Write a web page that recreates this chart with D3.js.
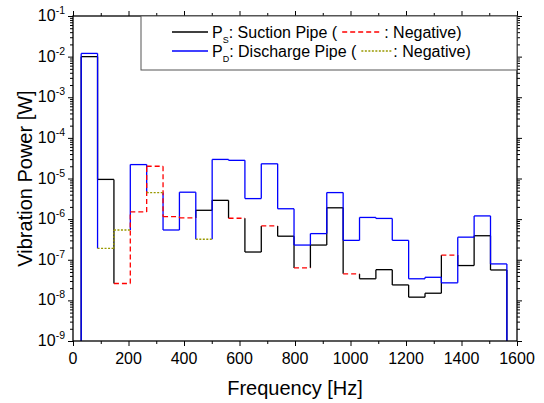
<!DOCTYPE html>
<html>
<head>
<meta charset="utf-8">
<script src="https://cdn.jsdelivr.net/npm/d3@7"></script>
<style>
  body { margin: 0; background: #fff; }
  svg { font-family: "Liberation Sans", Arial, sans-serif; }
</style>
</head>
<body>
<div id="chart"></div>
<script>
/* DATA */
// band centre frequencies [Hz] (bands are 59 Hz wide)
const freqs = [59, 118, 177, 236, 295, 354, 413, 472, 531, 590, 649, 708, 767,
  826, 885, 944, 1003, 1062, 1121, 1180, 1239, 1298, 1357, 1416, 1475, 1534];
const bandWidth = 59;
// suction pipe power [W], sign kept (negative = flowing the other way)
const suction = [1.0e-2, 9.5e-6, -2.6e-8, -1.5e-6, -2.0e-5, -1.15e-6, -1.07e-6, 1.65e-6,
  2.9e-6, -1.05e-6, 1.55e-7, -6.8e-7, 3.8e-7, -6.3e-8, 2.3e-7, 1.9e-6, -4.5e-8,
  3.4e-8, 5.7e-8, 2.4e-8, 1.2e-8, 1.5e-8, -1.3e-7, 7.2e-8, 3.9e-7, 5.6e-8];
// discharge pipe power [W]
const discharge = [1.2e-2, -1.9e-7, -5.4e-7, 2.2e-5, -4.5e-6, 5.4e-7, 4.6e-6, -3.2e-7,
  2.95e-5, 2.8e-5, 3.2e-6, 2.3e-5, 1.8e-6, 2.3e-7, 4.4e-7, 4.5e-6, 3.0e-7,
  1.1e-6, 1.04e-6, 3.0e-7, 3.4e-8, 3.7e-8, 2.7e-8, 3.6e-7, 1.2e-6, 7.9e-8];
const xTicks = [0, 200, 400, 600, 800, 1000, 1200, 1400, 1600];
const yExponents = [-1, -2, -3, -4, -5, -6, -7, -8, -9];

/* LAYOUT */
const W = 544, H = 403;
const plot = {left: 73, right: 517, top: 16, bottom: 341};

const svg = d3.select("#chart").append("svg")
  .attr("width", W).attr("height", H);

const x = d3.scaleLinear().domain([0, 1600]).range([plot.left, plot.right]);
const y = d3.scaleLog().domain([1e-9, 1e-1]).range([plot.bottom, plot.top]);

svg.append("clipPath").attr("id", "clip")
  .append("rect")
  .attr("x", plot.left).attr("y", plot.top)
  .attr("width", plot.right - plot.left).attr("height", plot.bottom - plot.top);

// minor ticks for log axis: 2..9 in each decade
const yMinor = [];
for (let e = -9; e < -1; e++) for (let m = 2; m <= 9; m++) yMinor.push(m * Math.pow(10, e));
const yMajor = yExponents.map(e => Math.pow(10, e));
const xMinor = d3.range(100, 1600, 200);

/* AXES */
function drawAxis(axisFn, tickVals, size, transform) {
  svg.append("g")
    .attr("transform", transform)
    .call(axisFn.tickValues(tickVals).tickSize(size).tickFormat(""))
    .call(g => g.select(".domain").remove())
    .selectAll("line").attr("stroke", "#000").attr("stroke-width", 1);
}
drawAxis(d3.axisLeft(y), yMajor, 5, `translate(${plot.left},0)`);
drawAxis(d3.axisLeft(y), yMinor, 3, `translate(${plot.left},0)`);
drawAxis(d3.axisRight(y), yMajor, 5, `translate(${plot.right},0)`);
drawAxis(d3.axisRight(y), yMinor, 3, `translate(${plot.right},0)`);
drawAxis(d3.axisBottom(x), xTicks, 5, `translate(0,${plot.bottom})`);
drawAxis(d3.axisBottom(x), xMinor, 3, `translate(0,${plot.bottom})`);
drawAxis(d3.axisTop(x), xTicks, 5, `translate(0,${plot.top})`);
drawAxis(d3.axisTop(x), xMinor, 3, `translate(0,${plot.top})`);

// tick labels
svg.append("g").selectAll("text")
  .data(xTicks).enter().append("text")
  .attr("x", d => x(d)).attr("y", plot.bottom + 23)
  .attr("text-anchor", "middle")
  .attr("font-size", 16)
  .text(d => d);

const yLab = svg.append("g").selectAll("text")
  .data(yExponents).enter().append("text")
  .attr("x", plot.left - 8).attr("y", d => y(Math.pow(10, d)) + 5)
  .attr("text-anchor", "end")
  .attr("font-size", 16);
yLab.append("tspan").text("10");
yLab.append("tspan").attr("dy", -7).attr("font-size", 10.5).text(d => d);

// axis titles
svg.append("text")
  .attr("x", (plot.left + plot.right) / 2).attr("y", 395)
  .attr("text-anchor", "middle").attr("font-size", 20)
  .text("Frequency [Hz]");
svg.append("text")
  .attr("transform", `translate(32,${(plot.top + plot.bottom) / 2}) rotate(-90)`)
  .attr("text-anchor", "middle").attr("font-size", 20)
  .text("Vibration Power [W]");

/* STEP CURVES */
// split a signed band series into positive (solid) and negative (dashed) pieces
function stepSegments(values) {
  const segs = [];
  const lo = i => freqs[i] - bandWidth / 2;
  const hi = i => freqs[i] + bandWidth / 2;
  const n = values.length;
  segs.push({neg: values[0] < 0, pts: [[lo(0), 1e-9], [lo(0), Math.abs(values[0])]]});
  values.forEach((v, i) => {
    segs.push({neg: v < 0, pts: [[lo(i), Math.abs(v)], [hi(i), Math.abs(v)]]});
    if (i < n - 1) {
      const w = values[i + 1];
      segs.push({neg: v < 0 && w < 0, pts: [[hi(i), Math.abs(v)], [hi(i), Math.abs(w)]]});
    }
  });
  segs.push({neg: values[n - 1] < 0, pts: [[hi(n - 1), Math.abs(values[n - 1])], [hi(n - 1), 1e-9]]});
  return segs;
}

const line = d3.line().x(d => x(d[0])).y(d => y(d[1]));
const curves = svg.append("g").attr("clip-path", "url(#clip)");

function drawSeries(values, posColor, negColor, dash, negOnly) {
  curves.append("g").selectAll("path")
    .data(stepSegments(values).filter(s => s.neg === negOnly))
    .enter().append("path")
    .attr("d", s => line(s.pts))
    .attr("fill", "none")
    .attr("stroke", negOnly ? negColor : posColor)
    .attr("stroke-width", 1.3)
    .attr("stroke-dasharray", negOnly ? dash : null);
}
drawSeries(suction, "#000", "#ff0000", "5,3", false);
drawSeries(discharge, "#0000ff", "#999900", "2,1.5", false);
drawSeries(suction, "#000", "#ff0000", "5,3", true);
drawSeries(discharge, "#0000ff", "#999900", "2,1.5", true);

// frame
svg.append("rect")
  .attr("x", plot.left).attr("y", plot.top)
  .attr("width", plot.right - plot.left).attr("height", plot.bottom - plot.top)
  .attr("fill", "none").attr("stroke", "#000").attr("stroke-width", 1.3);

/* LEGEND */
const legend = svg.append("g");
legend.append("rect")
  .attr("x", 141).attr("y", plot.top)
  .attr("width", plot.right - 141).attr("height", 54)
  .attr("fill", "#fff").attr("stroke", "#555").attr("stroke-width", 1);

const legendRows = [
  {sub: "S", label: ": Suction Pipe (", color: "#000", neg: "#ff0000", dash: "5,3", sample: 40, y: 32},
  {sub: "D", label: ": Discharge Pipe (", color: "#0000ff", neg: "#999900", dash: "2,1.5", sample: 30, y: 51}
];
legendRows.forEach(r => {
  legend.append("line")
    .attr("x1", 172).attr("x2", 208).attr("y1", r.y).attr("y2", r.y)
    .attr("stroke", r.color).attr("stroke-width", 1.3);
  const t = legend.append("text")
    .attr("x", 212).attr("y", r.y + 5.5).attr("font-size", 16);
  t.append("tspan").text("P");
  t.append("tspan").attr("dy", 5).attr("font-size", 9).text(r.sub);
  t.append("tspan").attr("dy", -5).text(r.label);
  const end = 212 + t.node().getComputedTextLength();
  legend.append("line")
    .attr("x1", end + 5).attr("x2", end + 5 + r.sample).attr("y1", r.y).attr("y2", r.y)
    .attr("stroke", r.neg).attr("stroke-width", 1.3).attr("stroke-dasharray", r.dash);
  legend.append("text")
    .attr("x", end + 7 + r.sample).attr("y", r.y + 5.5).attr("font-size", 16)
    .text(": Negative)");
});
</script>
</body>
</html>
